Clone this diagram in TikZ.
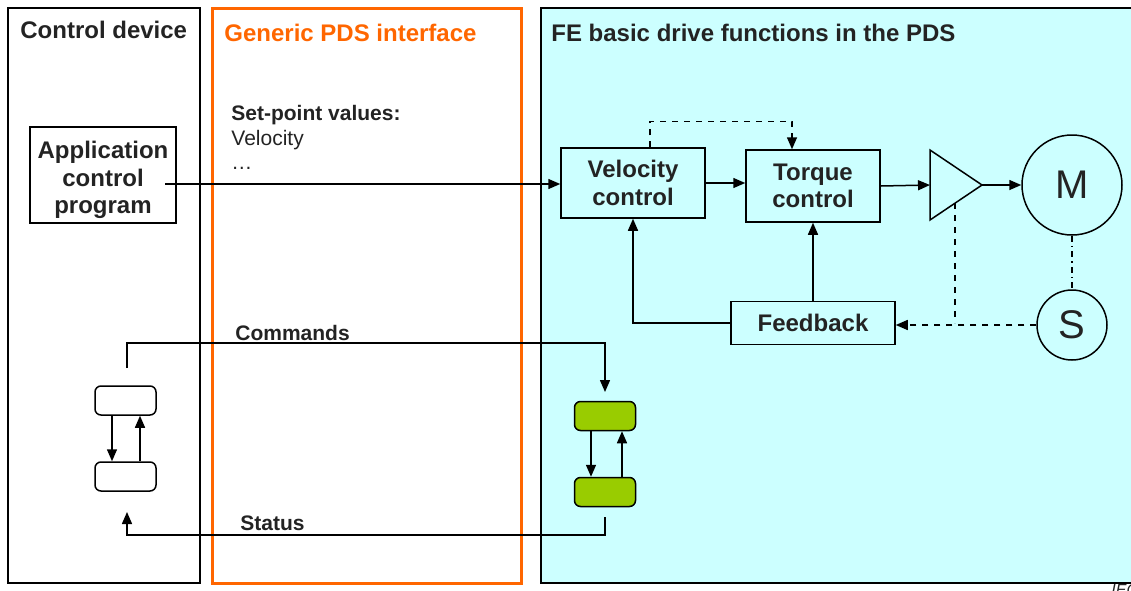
\documentclass[tikz,border=0pt]{standalone}
\usepackage{fontspec}
\setmainfont{Liberation Sans}
\usetikzlibrary{calc,positioning,arrows.meta}
\definecolor{pdsorange}{RGB}{255,102,0}
\definecolor{pdscyan}{RGB}{204,255,255}
\definecolor{pdsgreen}{RGB}{153,204,0}
\definecolor{txtdark}{RGB}{35,35,35}
\tikzset{
	blk/.style={draw, line width=0.75pt, inner sep=0pt, align=center, text=txtdark,
		font=\fontsize{12}{13.8}\selectfont\bfseries},
	state/.style={draw, line width=0.75pt, rounded corners=3pt, minimum width=30.5pt, minimum height=14.5pt, inner sep=0pt},
	ttl/.style={anchor=west, inner sep=0pt, font=\fontsize{12}{14}\selectfont\bfseries},
	lbl/.style={anchor=west, inner sep=0pt, text=txtdark, font=\fontsize{10.5}{12}\selectfont\bfseries},
	ln/.style={line width=0.75pt},
}
\begin{document}
\begin{tikzpicture}[x=0.5pt, y=-0.5pt, >={Triangle[length=6pt,width=5pt]}]
				 %\draw[color=gray,step=10, help lines,opacity=0.3] (0,0) grid (1131,590); %help grids
				 \useasboundingbox (0,0) rectangle (1131,590);
				 % the three panels
				 \draw[ln] (8,8) rectangle (200,583);
				 \draw[pdsorange, line width=1.5pt] (212,8) rectangle (521,583);
				 \filldraw[ln, fill=pdscyan] (541,8) rectangle (1140,583);
				 \node[ttl, text=txtdark] (devtitle) at (20,30) {Control device};
				 \node[ttl, text=pdsorange] (ifctitle) at (224,33) {Generic PDS interface};
				 \node[ttl, text=txtdark] (fetitle) at (551,33) {FE basic drive functions in the PDS};
				 % set-point values
				 \node[lbl] (spv) at (231,115) {Set-point values:};
				 \node[lbl, font=\fontsize{10.5}{12}\selectfont] (spvel) at (231,140) {Velocity};
				 \node[lbl, font=\fontsize{10.5}{12}\selectfont] (spdots) at (231,168) {…};
				 % blocks
				 \node[blk, minimum width=73pt, minimum height=48pt] (app) at (103,175) {};
				 \node[blk, draw=none] (apptext) at (103,180) {Application\\control\\program};
				 \node[blk, minimum width=72pt, minimum height=35pt] (velo) at (633,183) {Velocity\\control};
				 \node[blk, minimum width=67pt, minimum height=36pt] (torque) at (813,186) {Torque\\control};
				 \node[blk, minimum width=82pt, minimum height=21.5pt] (fb) at (813,323) {Feedback};
				 \node[blk, circle, minimum size=50pt, font=\fontsize{20}{20}\selectfont] (motor) at (1072,185) {M};
				 \node[blk, circle, minimum size=35pt, font=\fontsize{20}{20}\selectfont] (sensor) at (1072,325) {S};
				 % amplifier
				 \coordinate (ampin) at (930,185);
				 \coordinate (ampout) at (982,185);
				 \coordinate (ampfb) at (955,203);
				 \draw[ln] (930,150)--(ampout)--(930,220)--cycle;
				 % lines...
				 \coordinate (appout) at (165,184);
				 \draw[ln,->] (appout) -- (appout -| velo.west);
				 \draw[ln,->] (velo.east) -- (velo.east -| torque.west);
				 \draw[ln,->] (torque.east) -- (ampin);
				 \draw[ln,->] (ampout) -- (motor.west);
				 \draw[ln, dash dot] (motor.south) -- (sensor.north);
				 \draw[ln,->] (fb.west) -| (velo.south);
				 \draw[ln,->] (fb.north) -- (torque.south);
				 \draw[ln,->,dashed] (sensor.west) -- (sensor.west -| fb.east);
				 \draw[ln,dashed] (ampfb) -- (ampfb |- fb.east);
				 \coordinate (vtop) at ($(velo.north)+(17,0)$);
				 \coordinate (ttop) at ($(torque.north)+(-21,0)$);
				 \draw[ln,->,dashed] (vtop) -- ++(0,-26) -| (ttop);
				 % state machines
				 \node[state, fill=white] (devA) at (125.5,400.5) {};
				 \node[state, fill=white] (devB) at (125.5,476.5) {};
				 \node[state, fill=pdsgreen] (pdsA) at (605,416) {};
				 \node[state, fill=pdsgreen] (pdsB) at (605,492) {};
				 \draw[ln,->] ([xshift=-6.75pt]devA.south) -- ([xshift=-6.75pt]devB.north);
				 \draw[ln,->] ([xshift=7.25pt]devB.north) -- ([xshift=7.25pt]devA.south);
				 \draw[ln,->] ([xshift=-7pt]pdsA.south) -- ([xshift=-7pt]pdsB.north);
				 \draw[ln,->] ([xshift=8.5pt]pdsB.north) -- ([xshift=8.5pt]pdsA.south);
				 % commands and status
				 \coordinate (cmdstart) at (127,368);
				 \coordinate (cmdbend) at (127,343);
				 \coordinate (cmdend) at (605,392);
				 \draw[ln,->] (cmdstart) -- (cmdbend) -| (cmdend);
				 \node[lbl] (cmdlbl) at (235,333) {Commands};
				 \coordinate (stsstart) at (605,517);
				 \coordinate (stsbend) at (605,535);
				 \coordinate (stsend) at (127,512);
				 \draw[ln,->] (stsstart) -- (stsbend) -| (stsend);
				 \node[lbl] (stslbl) at (240,523) {Status};
				 % source mark, cut off at the border
				 \node[anchor=north west, inner sep=0pt, text=txtdark, font=\fontsize{8}{8}\selectfont\itshape] (iec) at (1111,584) {IEC};
\end{tikzpicture}
\end{document}
